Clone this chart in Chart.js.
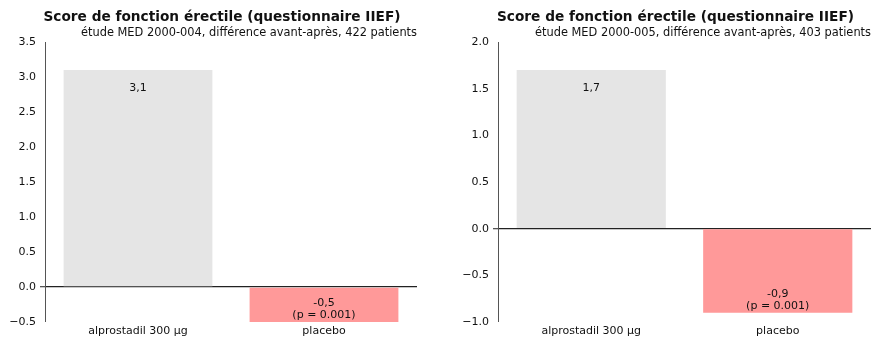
<!DOCTYPE html>
<html lang="fr">
<head>
<meta charset="utf-8" />
<title>Score de fonction érectile (IIEF)</title>
<script src="https://cdn.jsdelivr.net/npm/chart.js"></script>
<style>
    html, body { margin: 0; padding: 0; background: #fff; }
    .panel { position: absolute; top: 0; height: 339px; }
    #left-panel { left: 0; width: 435px; }
    #right-panel { left: 435px; width: 436px; }
</style>
</head>
<body>
<div class="panel" id="left-panel"><canvas id="chart004"></canvas></div>
<div class="panel" id="right-panel"><canvas id="chart005"></canvas></div>

<script>
// treatment groups and mean change in IIEF score
const groups = ['alprostadil 300 µg', 'placebo'];
const study004 = [3.1, -0.5];
const study005 = [1.7, -0.9];
const pValues = ['', '(p = 0.001)'];
const barColors = ['#e5e5e5', '#ff9999'];

const titleText = 'Score de fonction érectile (questionnaire IIEF)';
const sub004 = 'étude MED 2000-004, différence avant-après, 422 patients';
const sub005 = 'étude MED 2000-005, différence avant-après, 403 patients';

const FONT = '"DejaVu Sans", sans-serif';
const TXT = '#111';

// title + right-aligned subtitle above the plot
const headerPlugin = {
    id: 'header',
    afterDraw(chart, args, opts) {
        const ctx = chart.ctx, a = chart.chartArea;
        ctx.save();
        ctx.fillStyle = TXT;
        ctx.textBaseline = 'middle';
        ctx.font = 'bold 13.7px ' + FONT;
        ctx.textAlign = 'center';
        ctx.fillText(titleText, (a.left + a.right) / 2 - 9, 17);
        ctx.font = '11.4px ' + FONT;
        ctx.textAlign = 'right';
        ctx.fillText(opts.subtitle, a.right, 33);
        ctx.restore();
    }
};

// value labels inside each bar, comma as decimal separator
const valueLabels = {
    id: 'valueLabels',
    afterDatasetsDraw(chart) {
        const ctx = chart.ctx;
        const ds = chart.data.datasets[0];
        chart.getDatasetMeta(0).data.forEach((bar, i) => {
            const v = ds.data[i];
            const txt = v.toFixed(1).replace('.', ',');
            ctx.save();
            ctx.fillStyle = TXT;
            ctx.font = '11px ' + FONT;
            ctx.textAlign = 'center';
            ctx.textBaseline = 'middle';
            if (v >= 0) {
                ctx.fillText(txt, bar.x, bar.y + 18.5);
            } else {
                const lines = pValues[i] ? [txt, pValues[i]] : [txt];
                const step = 12.5;
                lines.forEach((ln, k) => {
                    ctx.fillText(ln, bar.x, bar.y - 6.5 - (lines.length - 1 - k) * step);
                });
            }
            ctx.restore();
        });
    }
};

function makeChart(id, values, yMin, yMax, yWidth, padRight, subtitle) {
    return new Chart(document.getElementById(id), {
        type: 'bar',
        data: {
            labels: groups,
            datasets: [{
                data: values,
                backgroundColor: barColors,
                borderWidth: 0,
                barPercentage: 0.8,
                categoryPercentage: 1.0
            }]
        },
        options: {
            responsive: true,
            maintainAspectRatio: false,
            animation: false,
            layout: { padding: { top: 42, right: padRight, bottom: 0, left: 0 } },
            plugins: {
                legend: { display: false },
                tooltip: { enabled: false },
                header: { subtitle: subtitle }
            },
            scales: {
                x: {
                    grid: { display: false, drawTicks: false, tickLength: 0 },
                    border: { display: false },
                    ticks: { color: TXT, font: { family: FONT, size: 11 }, padding: 3 },
                    afterFit(scale) { scale.height = 17; }
                },
                y: {
                    min: yMin,
                    max: yMax,
                    ticks: {
                        stepSize: 0.5,
                        color: TXT,
                        padding: 4,
                        font: { family: FONT, size: 11 },
                        callback: v => (v < 0 ? '\u2212' : '') + Math.abs(v).toFixed(1)
                    },
                    grid: {
                        drawOnChartArea: true,
                        drawTicks: true,
                        tickLength: 5,
                        tickColor: '#555',
                        color: c => (c.tick && c.tick.value === 0) ? '#222' : 'rgba(0,0,0,0)',
                        lineWidth: c => (c.tick && c.tick.value === 0) ? 1.3 : 0
                    },
                    border: { display: true, color: '#555', width: 1 },
                    afterFit(scale) { scale.width = yWidth; }
                }
            }
        },
        plugins: [headerPlugin, valueLabels]
    });
}

makeChart('chart004', study004, -0.5, 3.5, 45, 18, sub004);
makeChart('chart005', study005, -1.0, 2.0, 63, 0, sub005);
</script>
</body>
</html>
